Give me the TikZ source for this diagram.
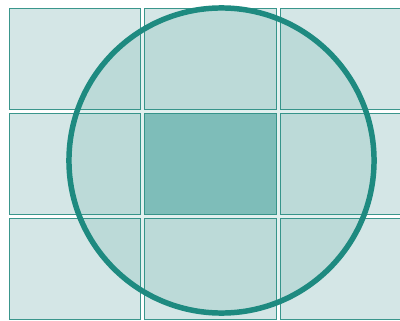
\documentclass[tikz,border=0pt]{standalone}
\usetikzlibrary{positioning}
\definecolor{tealring}{RGB}{30,138,128}
\definecolor{tealedge}{RGB}{58,150,140}
\definecolor{cellfill}{RGB}{212,230,230}
\definecolor{midfill}{RGB}{141,197,194}

\begin{document}
\begin{tikzpicture}[
    x=0.025cm, y=-0.025cm,
    node distance=0.1cm and 0.1cm,
    cell/.style={rectangle, minimum width=3.275cm, minimum height=2.525cm, inner sep=0pt, outer sep=0pt, draw=tealedge, line width=0.7pt, fill=cellfill},
    focus/.style={cell, fill=midfill},
    ring/.style={circle, minimum size=7.625cm, inner sep=0pt, draw=tealring, line width=3.9pt, fill=tealring, fill opacity=0.13}
]
\useasboundingbox (0,0) rectangle (400,321);
\clip (0,0) rectangle (400,321);

% middle cell
\node (mid) [focus] at (210.5,164) {};

% cross
\node (top) [cell, above=of mid] {};
\node (bot) [cell, below=of mid] {};
\node (left) [cell, left=of mid] {};
\node (right) [cell, right=of mid] {};

% corners
\node (topleft) [cell, left=of top] {};
\node (topright) [cell, right=of top] {};
\node (botleft) [cell, left=of bot] {};
\node (botright) [cell, right=of bot] {};

% circle
\node (disc) [ring] at (221.5,160.5) {};

\end{tikzpicture}
\end{document}
